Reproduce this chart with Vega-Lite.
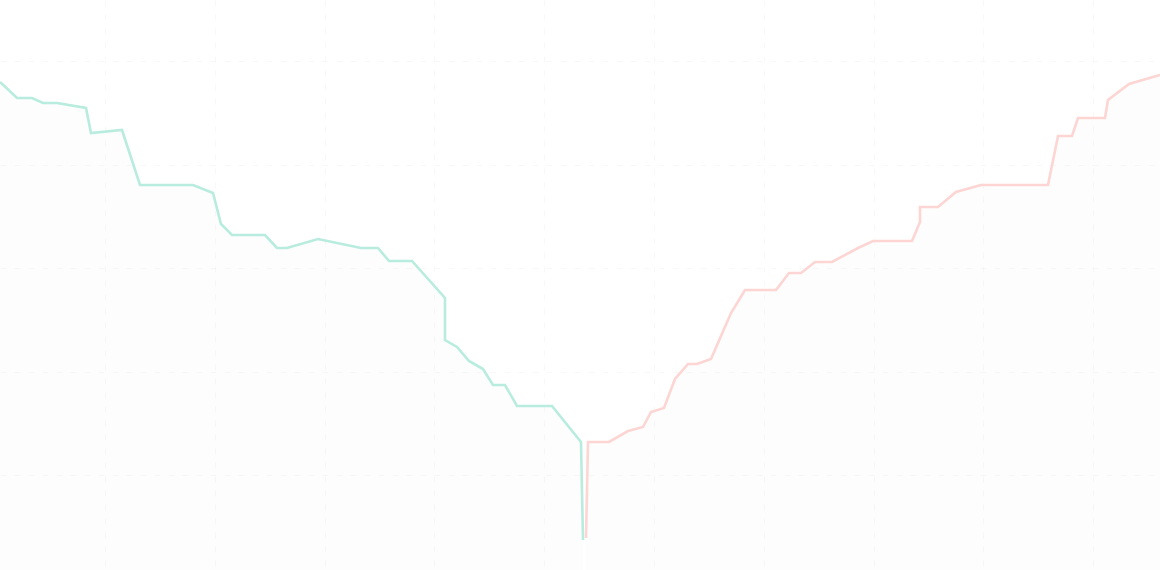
{
  "$schema": "https://vega.github.io/schema/vega-lite/v6.json",
  "width": 1160,
  "height": 570,
  "autosize": {"type": "fit", "contains": "padding"},
  "padding": 0,
  "background": "#ffffff",
  "config": {"view": {"stroke": null}},
  "data": {
    "values": [
      {"side": "bid", "price": 0, "depth": 488},
      {"side": "bid", "price": 17, "depth": 472},
      {"side": "bid", "price": 32, "depth": 472},
      {"side": "bid", "price": 43, "depth": 467},
      {"side": "bid", "price": 57, "depth": 467},
      {"side": "bid", "price": 86, "depth": 462},
      {"side": "bid", "price": 91, "depth": 437},
      {"side": "bid", "price": 122, "depth": 440},
      {"side": "bid", "price": 140, "depth": 385},
      {"side": "bid", "price": 193, "depth": 385},
      {"side": "bid", "price": 213, "depth": 377},
      {"side": "bid", "price": 221, "depth": 346},
      {"side": "bid", "price": 232, "depth": 335},
      {"side": "bid", "price": 265, "depth": 335},
      {"side": "bid", "price": 277, "depth": 322},
      {"side": "bid", "price": 287, "depth": 322},
      {"side": "bid", "price": 318, "depth": 331},
      {"side": "bid", "price": 361, "depth": 322},
      {"side": "bid", "price": 378, "depth": 322},
      {"side": "bid", "price": 389, "depth": 309},
      {"side": "bid", "price": 412, "depth": 309},
      {"side": "bid", "price": 445, "depth": 272},
      {"side": "bid", "price": 445, "depth": 230},
      {"side": "bid", "price": 457, "depth": 223},
      {"side": "bid", "price": 469, "depth": 209},
      {"side": "bid", "price": 483, "depth": 201},
      {"side": "bid", "price": 493, "depth": 185},
      {"side": "bid", "price": 505, "depth": 185},
      {"side": "bid", "price": 517, "depth": 164},
      {"side": "bid", "price": 552, "depth": 164},
      {"side": "bid", "price": 581, "depth": 128},
      {"side": "bid", "price": 583, "depth": 30},
      {"side": "ask", "price": 586, "depth": 32},
      {"side": "ask", "price": 588, "depth": 128},
      {"side": "ask", "price": 609, "depth": 128},
      {"side": "ask", "price": 628, "depth": 139},
      {"side": "ask", "price": 643, "depth": 143},
      {"side": "ask", "price": 651, "depth": 158},
      {"side": "ask", "price": 664, "depth": 162},
      {"side": "ask", "price": 675, "depth": 191},
      {"side": "ask", "price": 688, "depth": 206},
      {"side": "ask", "price": 697, "depth": 206},
      {"side": "ask", "price": 711, "depth": 211},
      {"side": "ask", "price": 731, "depth": 257},
      {"side": "ask", "price": 745, "depth": 280},
      {"side": "ask", "price": 776, "depth": 280},
      {"side": "ask", "price": 789, "depth": 297},
      {"side": "ask", "price": 801, "depth": 297},
      {"side": "ask", "price": 815, "depth": 308},
      {"side": "ask", "price": 832, "depth": 308},
      {"side": "ask", "price": 858, "depth": 322},
      {"side": "ask", "price": 873, "depth": 329},
      {"side": "ask", "price": 912, "depth": 329},
      {"side": "ask", "price": 920, "depth": 348},
      {"side": "ask", "price": 920, "depth": 363},
      {"side": "ask", "price": 938, "depth": 363},
      {"side": "ask", "price": 956, "depth": 378},
      {"side": "ask", "price": 981, "depth": 385},
      {"side": "ask", "price": 1048, "depth": 385},
      {"side": "ask", "price": 1058, "depth": 434},
      {"side": "ask", "price": 1072, "depth": 434},
      {"side": "ask", "price": 1078, "depth": 452},
      {"side": "ask", "price": 1105, "depth": 452},
      {"side": "ask", "price": 1108, "depth": 470},
      {"side": "ask", "price": 1129, "depth": 486},
      {"side": "ask", "price": 1160, "depth": 495}
    ]
  },
  "encoding": {
    "x": {
      "field": "price",
      "type": "quantitative",
      "scale": {"domain": [0, 1160], "nice": false, "zero": false},
      "axis": {
        "values": [105, 215, 325, 434, 544, 654, 764, 874, 983, 1093],
        "labels": false, "ticks": false, "domain": false, "title": null,
        "grid": true, "gridColor": "#f0f0f0", "gridDash": [6, 8], "gridOpacity": 0.45
      }
    },
    "y": {
      "field": "depth",
      "type": "quantitative",
      "stack": null,
      "scale": {"domain": [0, 570], "nice": false},
      "axis": {
        "values": [95, 198, 302, 405, 509],
        "labels": false, "ticks": false, "domain": false, "title": null,
        "grid": true, "gridColor": "#f0f0f0", "gridDash": [6, 8], "gridOpacity": 0.45
      }
    },
    "detail": {"field": "side"}
  },
  "layer": [
    {
      "mark": {"type": "area", "color": "#000000", "opacity": 0.008, "clip": true}
    },
    {
      "mark": {"type": "line", "strokeWidth": 2.6, "clip": true},
      "encoding": {
        "color": {
          "field": "side",
          "type": "nominal",
          "scale": {"domain": ["bid", "ask"], "range": ["#b8ecde", "#fdd5d3"]},
          "legend": null
        }
      }
    }
  ]
}
